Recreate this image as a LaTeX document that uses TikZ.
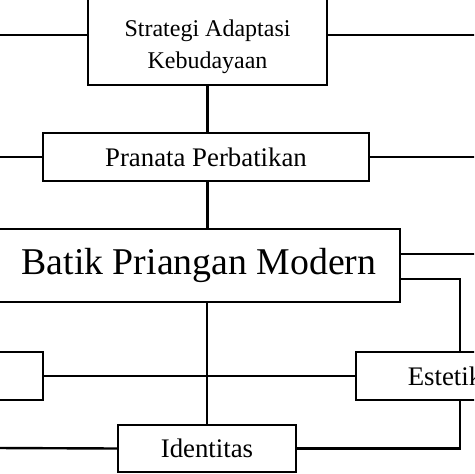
\documentclass[tikz,border=0pt]{standalone}
\usepackage{fontspec}
\setmainfont{Liberation Serif}
\begin{document}
\begin{tikzpicture}  % ------ Batik Priangan Modern -----------------------------
      [x=0.5pt,y=-0.5pt, line width=1.2pt,
       kotak/.style={draw, rectangle, inner sep=0pt},
       teks/.style={font=\fontsize{13.4pt}{16pt}\selectfont}]
  \useasboundingbox (0,0) rectangle (474,474);
  \clip (0,0) rectangle (474,474);

  \node (strat) [kotak, minimum width=119.5pt, minimum height=50pt] at (207.5,35) {};
  \node (stratlbl) [align=center, font=\fontsize{12pt}{16pt}\selectfont] at (207.5,47) {Strategi Adaptasi\\Kebudayaan};
  \node (pran) [kotak, teks, minimum width=163pt, minimum height=24pt] at (206,157) {Pranata Perbatikan};
  \node (batik) [kotak, font=\fontsize{18.9pt}{22pt}\selectfont, minimum width=201pt, minimum height=36.5pt] at (199,265.5) {Batik Priangan Modern};
  \node (kiri) [kotak, minimum width=51.5pt, minimum height=24pt] at (-8.5,376) {};
  \node (estet) [kotak, teks, minimum width=95pt, minimum height=24pt] at (451,376) {Estetika};
  \node (ident) [kotak, teks, minimum width=89pt, minimum height=23.5pt] at (207,448.5) {Identitas};

  \coordinate (kiA) at (-5,35);   \coordinate (knA) at (480,35);
  \coordinate (kiB) at (-5,157);  \coordinate (knB) at (480,157);
  \coordinate (knC) at (480,254); \coordinate (belok) at (460,279);
  \coordinate (kiD) at (-5,448);

%   tengah
  \draw (strat.south) -- (strat.south |- pran.north);
  \draw (strat.south |- pran.south) -- (strat.south |- batik.north);
  \draw (ident.north |- batik.south) -- (ident.north);
  \draw (kiri.east) -- (estet.west);
%   ke tepi
  \draw (kiA) -- (strat.west);  \draw (strat.east) -- (knA);
  \draw (kiB) -- (pran.west);  \draw (pran.east) -- (knB);
  \draw (batik.east |- knC) -- (knC);
  \draw (batik.east |- belok) -- (belok) -- (belok |- estet.north);
  \draw (belok |- estet.south) -- (belok |- ident.east) -- (ident.east);
  \draw (kiD) -- (ident.west);

\end{tikzpicture}
\end{document}
